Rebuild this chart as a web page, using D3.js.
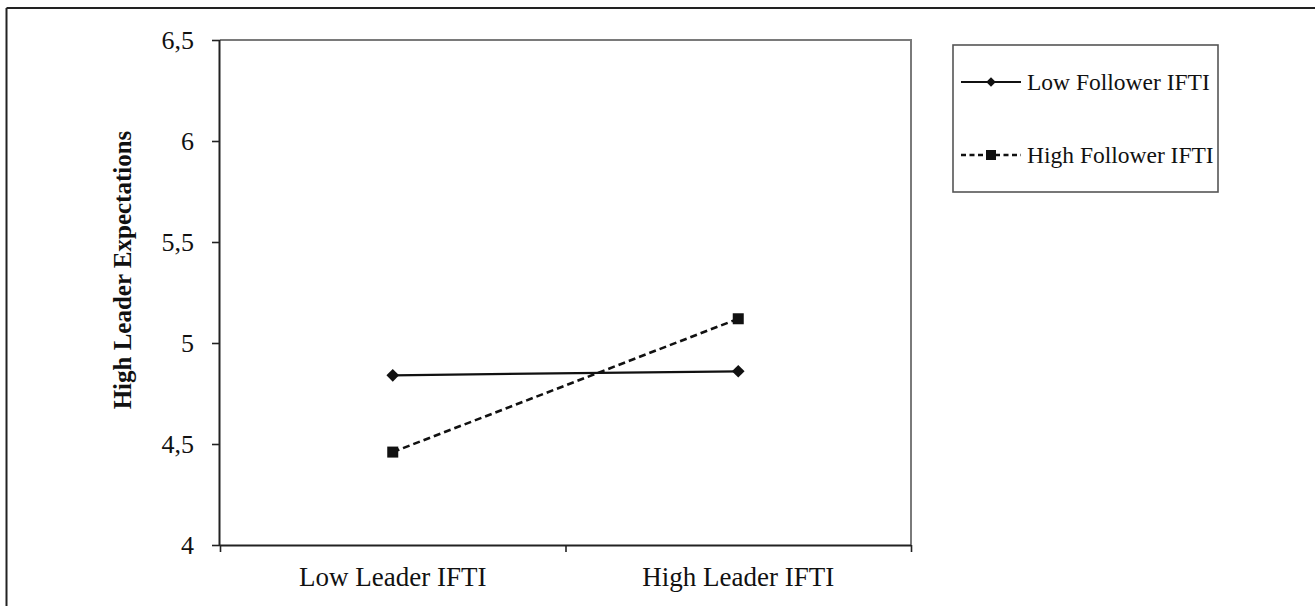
<!DOCTYPE html>
<html>
<head>
<meta charset="utf-8">
<script src="https://cdn.jsdelivr.net/npm/d3@7"></script>
<style>
  html, body { margin: 0; padding: 0; background: #fff; }
  svg { display: block; }
</style>
</head>
<body>
<svg id="chart" width="1315" height="606"></svg>
<script>
const categories = ["Low Leader IFTI", "High Leader IFTI"];
const seriesNames = ["Low Follower IFTI", "High Follower IFTI"];
const lowFollower = [4.84, 4.86];
const highFollower = [4.46, 5.12];
const yTicks = [4, 4.5, 5, 5.5, 6, 6.5];
const yTitle = "High Leader Expectations";

(function () {
const svg = d3.select("#chart");
const font = "'Liberation Serif', 'Times New Roman', serif";

// outer frame (left and top edges)
svg.append("line").attr("x1", 6.5).attr("y1", 8).attr("x2", 6.5).attr("y2", 606)
  .attr("stroke", "#222").attr("stroke-width", 2);
svg.append("line").attr("x1", 6.5).attr("y1", 8).attr("x2", 1315).attr("y2", 8)
  .attr("stroke", "#222").attr("stroke-width", 2);

const pL = 220, pR = 911, pT = 40, pB = 545;

const y = d3.scaleLinear().domain([4, 6.5]).range([pB, pT]);
const xb = d3.scaleBand().domain(categories).range([pL, pR]).padding(0);
const xEdge = d3.scaleLinear().domain([0, categories.length]).range([pL, pR]);

// plot area border (top & right, grey)
svg.append("path")
  .attr("d", `M${pL},${pT}H${pR}V${pB}`)
  .attr("fill", "none").attr("stroke", "#7a7a7a").attr("stroke-width", 2);

// y axis
const yAxis = d3.axisLeft(y).tickValues(yTicks).tickSize(8).tickPadding(18)
  .tickFormat(d => String(d).replace(".", ","));
const gy = svg.append("g").attr("transform", `translate(${pL},0)`).call(yAxis);
gy.select(".domain").attr("stroke", "#222").attr("stroke-width", 2).attr("d", `M-0.5,${pT}V${pB}`);
gy.selectAll(".tick line").attr("stroke", "#222").attr("stroke-width", 1.6);
gy.selectAll(".tick text").attr("font-family", font).attr("font-size", 26).attr("fill", "#111");

// x axis
const xAxis = d3.axisBottom(xEdge).tickValues(d3.range(categories.length + 1)).tickSize(7).tickFormat("");
const gx = svg.append("g").attr("transform", `translate(0,${pB})`).call(xAxis);
gx.select(".domain").attr("stroke", "#222").attr("stroke-width", 2).attr("d", `M${pL},0.5H${pR}`);
gx.selectAll(".tick line").attr("stroke", "#222").attr("stroke-width", 1.6);

svg.append("g").selectAll("text").data(categories).join("text")
  .attr("x", d => xb(d) + xb.bandwidth() / 2)
  .attr("y", 586)
  .attr("text-anchor", "middle")
  .attr("font-family", font).attr("font-size", 27).attr("fill", "#111")
  .text(d => d);

// y title
svg.append("text")
  .attr("transform", `translate(131,270) rotate(-90)`)
  .attr("text-anchor", "middle")
  .attr("font-family", font).attr("font-size", 25).attr("font-weight", "bold").attr("fill", "#111")
  .text(yTitle);

const cx = d => xb(d) + xb.bandwidth() / 2;
const line = d3.line().x(d => cx(d.c)).y(d => y(d.v));
const toPts = vals => categories.map((c, i) => ({ c, v: vals[i] }));

// series: Low follower (solid, diamonds)
const lowPts = toPts(lowFollower);
svg.append("path").attr("d", line(lowPts)).attr("fill", "none")
  .attr("stroke", "#111").attr("stroke-width", 2.2);
svg.append("g").selectAll("path").data(lowPts).join("path")
  .attr("d", d3.symbol(d3.symbolSquare, 80)())
  .attr("transform", d => `translate(${cx(d.c)},${y(d.v)}) rotate(45)`)
  .attr("fill", "#111");

// series: High follower (dashed, squares)
const highPts = toPts(highFollower);
svg.append("path").attr("d", line(highPts)).attr("fill", "none")
  .attr("stroke", "#111").attr("stroke-width", 2.6).attr("stroke-dasharray", "7,4");
svg.append("g").selectAll("rect").data(highPts).join("rect")
  .attr("x", d => cx(d.c) - 5.5).attr("y", d => y(d.v) - 5.5)
  .attr("width", 11).attr("height", 11).attr("fill", "#111");

// legend
const lg = svg.append("g");
lg.append("rect").attr("x", 953).attr("y", 45).attr("width", 265).attr("height", 147)
  .attr("fill", "#fff").attr("stroke", "#555").attr("stroke-width", 1.6);
const legY = [82, 155];
seriesNames.forEach((name, i) => {
  const yy = legY[i];
  lg.append("line").attr("x1", 961).attr("x2", 1021).attr("y1", yy).attr("y2", yy)
    .attr("stroke", "#111").attr("stroke-width", i === 0 ? 2 : 2.4)
    .attr("stroke-dasharray", i === 0 ? null : "5,3.5");
  if (i === 0) {
    lg.append("path").attr("d", d3.symbol(d3.symbolSquare, 45)())
      .attr("transform", `translate(991,${yy}) rotate(45)`).attr("fill", "#111");
  } else {
    lg.append("rect").attr("x", 986).attr("y", yy - 5).attr("width", 10).attr("height", 10).attr("fill", "#111");
  }
  lg.append("text").attr("x", 1027).attr("y", yy).attr("dy", "0.32em")
    .attr("font-family", font).attr("font-size", 23.5).attr("fill", "#111").text(name);
});
})();
</script>
</body>
</html>
